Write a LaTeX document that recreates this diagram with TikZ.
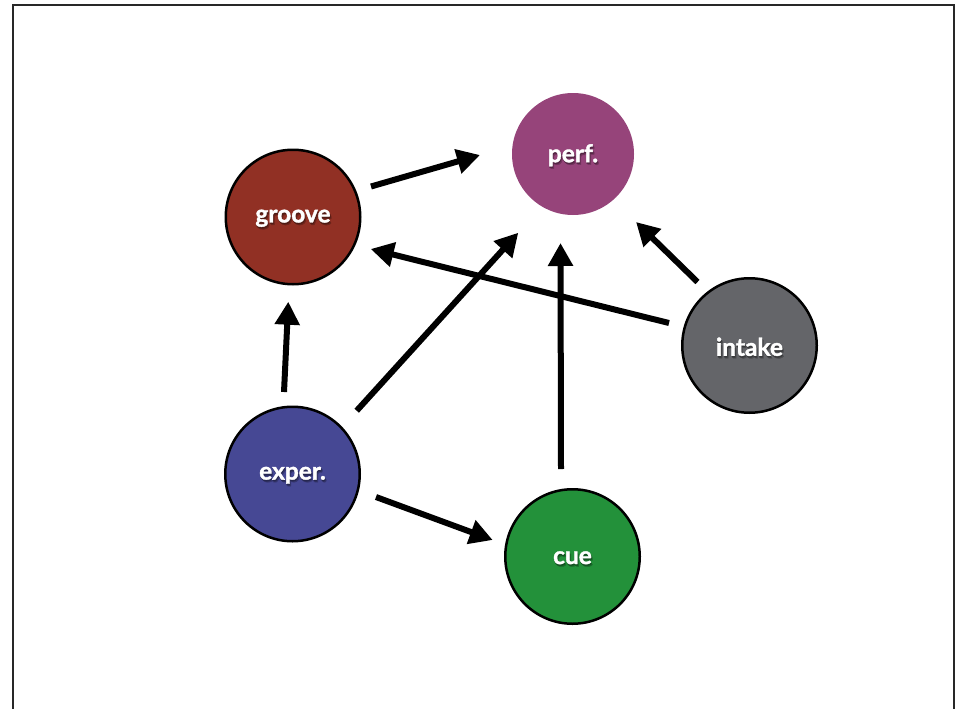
\documentclass[tikz,border=0pt]{standalone}
\usepackage{fontspec}
\newfontfamily\labelfont{Lato}[BoldFeatures={FakeBold=1.4}]
\usetikzlibrary{arrows.meta}

\definecolor{perfcol}{RGB}{150,68,122}
\definecolor{groovecol}{RGB}{145,48,36}
\definecolor{intakecol}{RGB}{100,101,105}
\definecolor{expercol}{RGB}{70,72,148}
\definecolor{cuecol}{RGB}{35,145,58}
\definecolor{framecol}{RGB}{40,40,40}

% white name set over a soft dark drop shadow, all in one box
\newcommand\shadowedname[2]{%
  \makebox[0pt][l]{\raisebox{-2.5pt}{\kern1.5pt\textcolor{#1!75!black}{#2}}}%
  \makebox[0pt][l]{\raisebox{-1.5pt}{\kern0.5pt\textcolor{#1!55!black}{#2}}}%
  \textcolor{white}{#2}}

\begin{document}
\begin{tikzpicture}[x=1pt, y=-1pt,
  ball/.style={circle, draw=black, line width=2.5pt, minimum size=134.5pt, inner sep=0pt},
  plainball/.style={circle, minimum size=122pt, inner sep=0pt},
  nametext/.style={font=\labelfont\bfseries\fontsize{24.5}{24.5}\selectfont, inner sep=0pt},
  arr/.style={line width=6pt, -{Triangle[length=23pt, width=24pt]}}]

\useasboundingbox (0,0) rectangle (961,709);

% frame
\draw[line width=2pt, draw=framecol] (13,709) -- (13,5) -- (954,5) -- (954,709);

% circles
\node[plainball, fill=perfcol]   (perf)   at (573,154)   {};
\node[ball, fill=groovecol]      (groove) at (293,217)   {};
\node[ball, fill=intakecol]      (intake) at (749.5,345.5) {};
\node[ball, fill=expercol]       (exper)  at (292.5,474) {};
\node[ball, fill=cuecol]         (cue)    at (572.5,556.5) {};

% labels
\foreach \n/\t in {perf/perf., groove/groove, intake/intake, exper/exper., cue/cue}{
  \node[nametext] (\n-text) at ([yshift=-2.5pt]\n.center) {\shadowedname{\n col}{\t}};
}

% connectors
\draw[arr] ([shift={(78,-30.5)}]groove.center) -- ([shift={(-93,1)}]perf.center);
\draw[arr] ([shift={(-80.5,-22.5)}]intake.center) -- ([shift={(77.7,32)}]groove.center);
\draw[arr] ([shift={(-52,-63.5)}]intake.center) -- ([shift={(63,68)}]perf.center);
\draw[arr] ([shift={(-8.5,-82)}]exper.center) -- ([shift={(-4.7,84.7)}]groove.center);
\draw[arr] ([shift={(64.2,-63.3)}]exper.center) -- ([shift={(-54.7,78.7)}]perf.center);
\draw[arr] ([shift={(83.5,23)}]exper.center) -- ([shift={(-79.8,-16.5)}]cue.center);
\draw[arr] ([shift={(-11.5,-87.5)}]cue.center) -- ([shift={(-12.5,89)}]perf.center);
\end{tikzpicture}
\end{document}
